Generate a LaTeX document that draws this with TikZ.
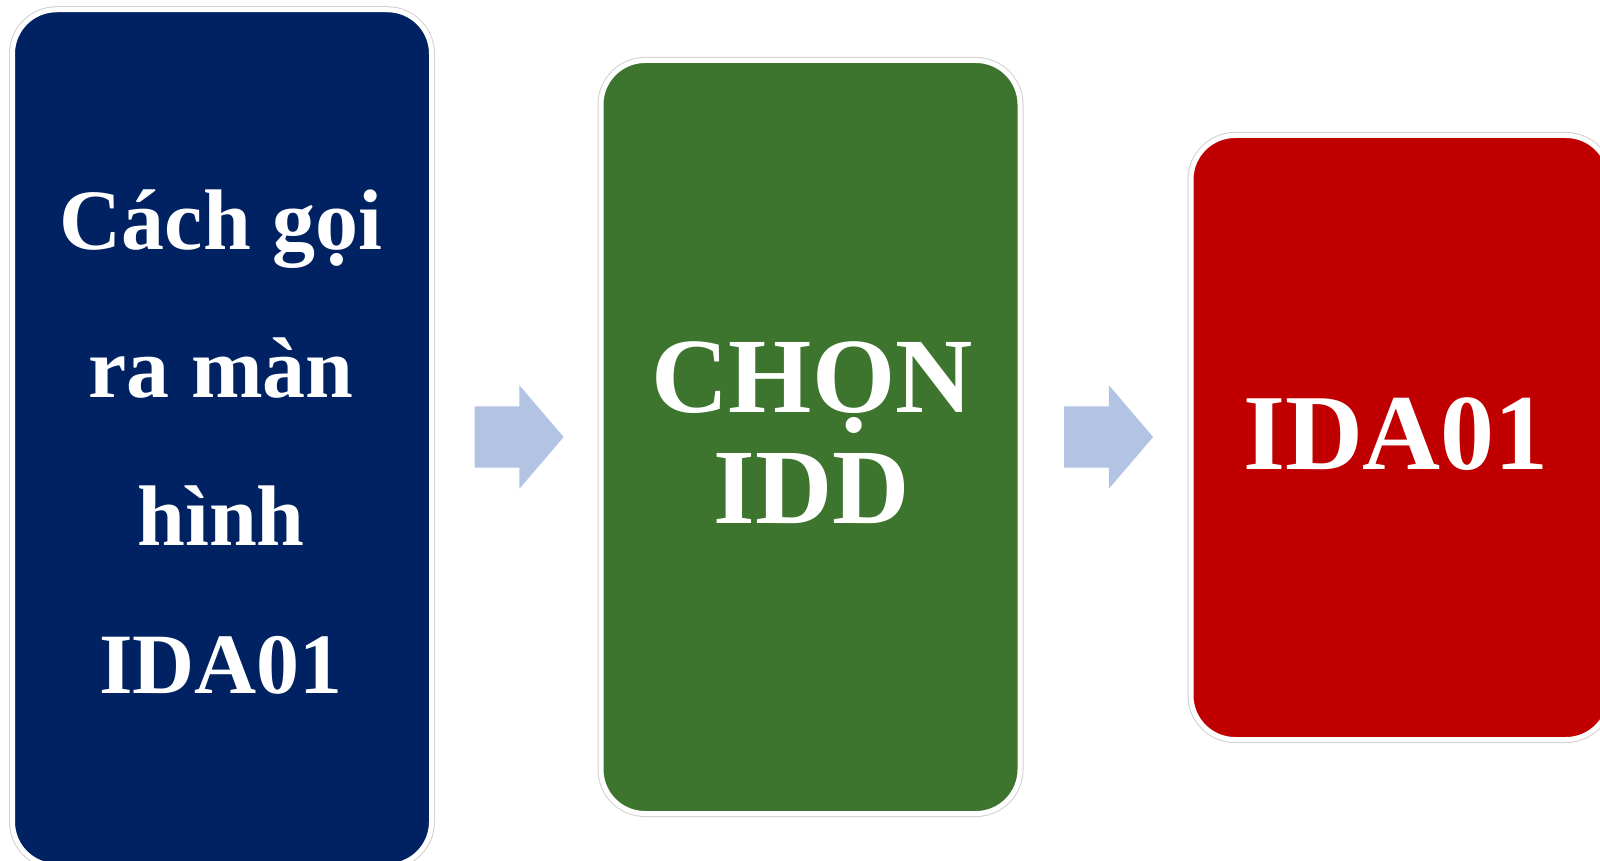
\documentclass[tikz,border=0pt]{standalone}
\usepackage{fontspec}
\setmainfont{Liberation Serif}
\usetikzlibrary{shapes.arrows}

\definecolor{boxblue}{RGB}{0,34,98}
\definecolor{boxgreen}{RGB}{62,117,46}
\definecolor{boxred}{RGB}{192,0,0}
\definecolor{arrowblue}{RGB}{178,195,228}

\begin{document}
\begin{tikzpicture}[x=1pt,y=-1pt]

      \useasboundingbox (0,0) rectangle (1600,861);

      \begin{scope}[every node/.style={rectangle,rounded corners=44pt,minimum width=419pt,inner sep=0pt,draw=white,line width=5pt,preaction={draw=black!18,line width=7pt}}]
        \node[fill=boxblue,minimum height=856pt]  (1) at (222,437.75) {};
        \node[fill=boxgreen,minimum height=753pt] (2) at (810.5,437)  {};
        \node[fill=boxred,minimum height=604pt]   (3) at (1400.5,437.5) {};
      \end{scope}

      \begin{scope}[every node/.style={single arrow,fill=arrowblue,inner xsep=0pt,inner ysep=30.5pt,single arrow head extend=21pt,single arrow tip angle=99,minimum height=89pt}]
        \node (a1) at (506,437)    {};
        \node (a2) at (1095.5,437) {};
      \end{scope}

      \begin{scope}[every node/.style={text=white,align=center,inner sep=0pt}]
        \node[font=\fontsize{86}{148}\selectfont\bfseries] (t1) at (221,442) {Cách gọi\\ra màn\\hình\\IDA01};
        \node[font=\fontsize{107}{111}\selectfont\bfseries] (t2) at (812,432.5) {CHỌN\\IDD};
        \node[font=\fontsize{108}{111}\selectfont\bfseries,anchor=base] (t3) at (1396,469) {IDA01};
      \end{scope}

    \end{tikzpicture}
\end{document}
